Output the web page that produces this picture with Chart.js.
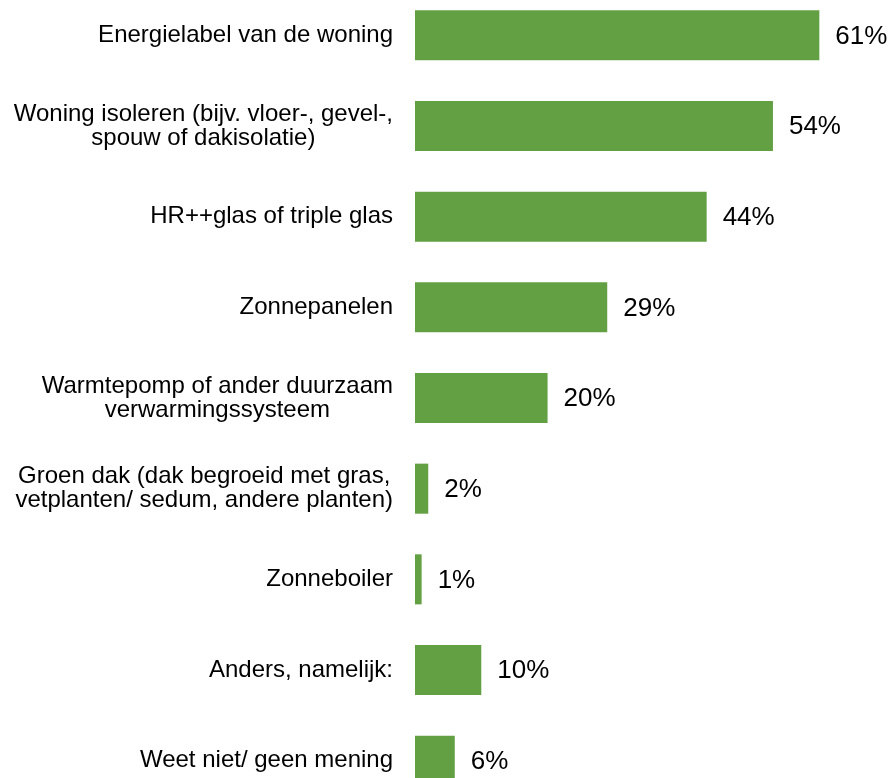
<!DOCTYPE html>
<html>
<head>
<meta charset="utf-8">
<script src="https://cdn.jsdelivr.net/npm/chart.js@4"></script>
<style>
  html, body { margin: 0; padding: 0; background: #fff; overflow: hidden; }
  #wrap { position: absolute; left: 0; top: -44px; width: 891px; height: 884px; }
</style>
</head>
<body>
<div id="wrap"><canvas id="barChart"></canvas></div>
<script>
const categories = [
  'Energielabel van de woning',
  ['Woning isoleren (bijv. vloer-, gevel-,', 'spouw of dakisolatie)'],
  'HR++glas of triple glas',
  'Zonnepanelen',
  ['Warmtepomp of ander duurzaam', 'verwarmingssysteem'],
  ['Groen dak (dak begroeid met gras,', 'vetplanten/ sedum, andere planten)'],
  'Zonneboiler',
  'Anders, namelijk:',
  'Weet niet/ geen mening'
];
const percentages = [61, 54, 44, 29, 20, 2, 1, 10, 6];

const fontFamily = '"Liberation Sans", Arial, sans-serif';

// categorienamen: blok rechts uitgelijnd, regels binnen het blok gecentreerd
const categoryLabels = {
  id: 'categoryLabels',
  afterDraw(chart) {
    const ctx = chart.ctx;
    const yScale = chart.scales.y;
    const right = yScale.right - 22;
    const lineHeight = 24;
    ctx.save();
    ctx.font = '24px ' + fontFamily;
    ctx.fillStyle = '#000';
    ctx.textAlign = 'center';
    ctx.textBaseline = 'middle';
    categories.forEach((label, i) => {
      const lines = Array.isArray(label) ? label : [label];
      const blockWidth = Math.max(...lines.map(l => ctx.measureText(l).width));
      const cx = right - blockWidth / 2;
      const y = yScale.getPixelForTick(i);
      lines.forEach((line, j) => {
        ctx.fillText(line, cx, y + (j - (lines.length - 1) / 2) * lineHeight);
      });
    });
    ctx.restore();
  }
};

// zet het percentage rechts naast elke balk
const valueLabels = {
  id: 'valueLabels',
  afterDatasetsDraw(chart) {
    const ctx = chart.ctx;
    const meta = chart.getDatasetMeta(0);
    ctx.save();
    ctx.font = '26px ' + fontFamily;
    ctx.fillStyle = '#000';
    ctx.textAlign = 'left';
    ctx.textBaseline = 'middle';
    meta.data.forEach((bar, i) => {
      ctx.fillText(percentages[i] + '%', bar.x + 16, bar.y + 1);
    });
    ctx.restore();
  }
};

const ctx = document.getElementById('barChart').getContext('2d');
const barChart = new Chart(ctx, {
  type: 'bar',
  data: {
    labels: categories,
    datasets: [{
      data: percentages,
      backgroundColor: '#63a043',
      borderWidth: 0,
      barPercentage: 0.552,
      categoryPercentage: 1
    }]
  },
  options: {
    indexAxis: 'y',
    responsive: true,
    maintainAspectRatio: false,
    animation: false,
    layout: { padding: { right: 12 } },
    plugins: {
      legend: { display: false },
      tooltip: { enabled: false }
    },
    scales: {
      x: {
        display: false,
        min: 0,
        max: 70
      },
      y: {
        afterFit(scale) { scale.width = 415; },
        grid: { display: false, drawTicks: false },
        border: { display: false },
        ticks: {
          color: 'rgba(0,0,0,0)',
          padding: 22,
          font: { family: fontFamily, size: 24, lineHeight: 1.0 }
        }
      }
    }
  },
  plugins: [valueLabels, categoryLabels]
});
</script>
</body>
</html>
